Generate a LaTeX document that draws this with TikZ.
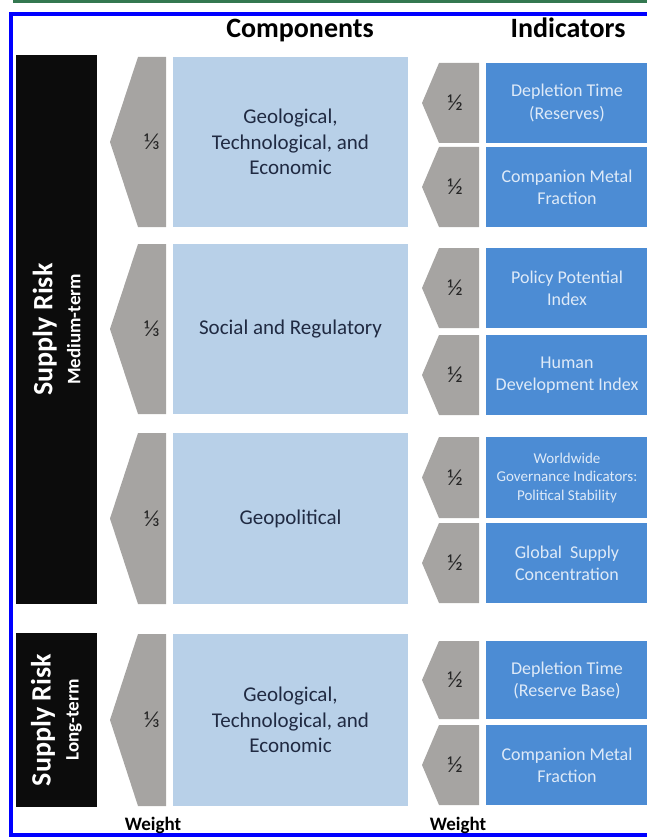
\documentclass[tikz,border=0pt]{standalone}
\usepackage{fontspec}
\setmainfont{Carlito}

\definecolor{compblue}{RGB}{184,208,232}
\definecolor{indblue}{RGB}{76,140,212}
\definecolor{wgray}{RGB}{166,164,162}
\definecolor{navytext}{RGB}{32,42,66}
\definecolor{paletext}{RGB}{222,234,248}
\definecolor{rulegreen}{RGB}{52,120,80}
\definecolor{nearblack}{RGB}{12,12,12}

\begin{document}
\begin{tikzpicture}[x=1pt, y=-1pt,
  compbox/.style={fill=compblue, text=navytext, align=center, inner sep=0pt,
    minimum width=235pt, font=\fontsize{21}{25.5}\selectfont},
  indbox/.style={fill=indblue, text=paletext, align=center, inner sep=0pt,
    minimum width=162pt, font=\fontsize{18}{22}\selectfont},
  riskbar/.style={fill=nearblack, text=white, rotate=90, align=center,
    inner sep=0pt, minimum height=81pt, font=\bfseries\fontsize{28}{28}\selectfont},
  frac/.style={text=black!85, font=\fontsize{23}{23}\selectfont},
  head/.style={anchor=base, font=\bfseries\fontsize{28}{28}\selectfont}]
  \useasboundingbox (0,0) rectangle (646,837);

  % frame
  \draw[rulegreen, line width=2.5pt] (13,1.5) -- (660,1.5);
  \draw[blue, line width=4pt] (660,14.5) -- (10.5,14.5) -- (10.5,834.5) -- (660,834.5);

  \node[head] (comphead) at (300,38) {Components};
  \node[head] (indhead) at (568,38) {Indicators};

  \node[riskbar, minimum width=549pt] (medium) at (56.5,329.5)
    {Supply Risk\\\fontsize{19}{28}\selectfont Medium-term};
  \node[riskbar, minimum width=174pt] (long) at (56.5,720)
    {Supply Risk\\\fontsize{19}{28}\selectfont Long-term};

  % components and their weights
  \foreach \t/\b [count=\i] in {57/227, 244/414, 433/604, 634/806} {
    \fill[wgray] (166,\t) -- (138,\t) -- (110,{(\t+\b)/2}) -- (138,\b)
      -- (166,\b) -- cycle;
    \node[frac] (third\i) at (152,{(\t+\b)/2}) {⅓};
  }
  \node[compbox, minimum height=170pt] (geo) at (290.5,142)
    {Geological,\\Technological, and\\Economic};
  \node[compbox, minimum height=170pt] (social) at (290.5,329)
    {Social and Regulatory};
  \node[compbox, minimum height=171pt] (geopol) at (290.5,518.5)
    {Geopolitical};
  \node[compbox, minimum height=172pt] (geolong) at (290.5,720)
    {Geological,\\Technological, and\\Economic};

  % indicators and their weights
  \foreach \t/\b [count=\i] in {63/143, 147/227, 248/328, 335/415,
      437/518, 523/603, 641/719, 725/805} {
    \fill[wgray] (479,\t) -- (439,\t) -- (422,{(\t+\b)/2}) -- (439,\b)
      -- (479,\b) -- cycle;
    \node[frac] (half\i) at (455,{(\t+\b)/2}) {½};
  }
  \node[indbox, minimum height=80pt] (deplres) at (567,103)
    {Depletion Time\\(Reserves)};
  \node[indbox, minimum height=80pt] (compmet) at (567,187)
    {Companion Metal\\Fraction};
  \node[indbox, minimum height=80pt] (policy) at (567,288)
    {Policy Potential\\Index};
  \node[indbox, minimum height=80pt] (human) at (567,375)
    {Human\\Development Index};
  \node[indbox, minimum height=81pt, font=\fontsize{15}{18.5}\selectfont]
    (wgi) at (567,477.5)
    {Worldwide\\Governance Indicators:\\Political Stability};
  \node[indbox, minimum height=80pt] (supply) at (567,563)
    {Global~ Supply\\Concentration};
  \node[indbox, minimum height=78pt] (deplbase) at (567,680)
    {Depletion Time\\(Reserve Base)};
  \node[indbox, minimum height=80pt] (compmetlong) at (567,765)
    {Companion Metal\\Fraction};

  \node[font=\bfseries\fontsize{19}{19}\selectfont] (compweight) at (153,825) {Weight};
  \node[font=\bfseries\fontsize{19}{19}\selectfont] (indweight) at (458,825) {Weight};
\end{tikzpicture}
\end{document}
